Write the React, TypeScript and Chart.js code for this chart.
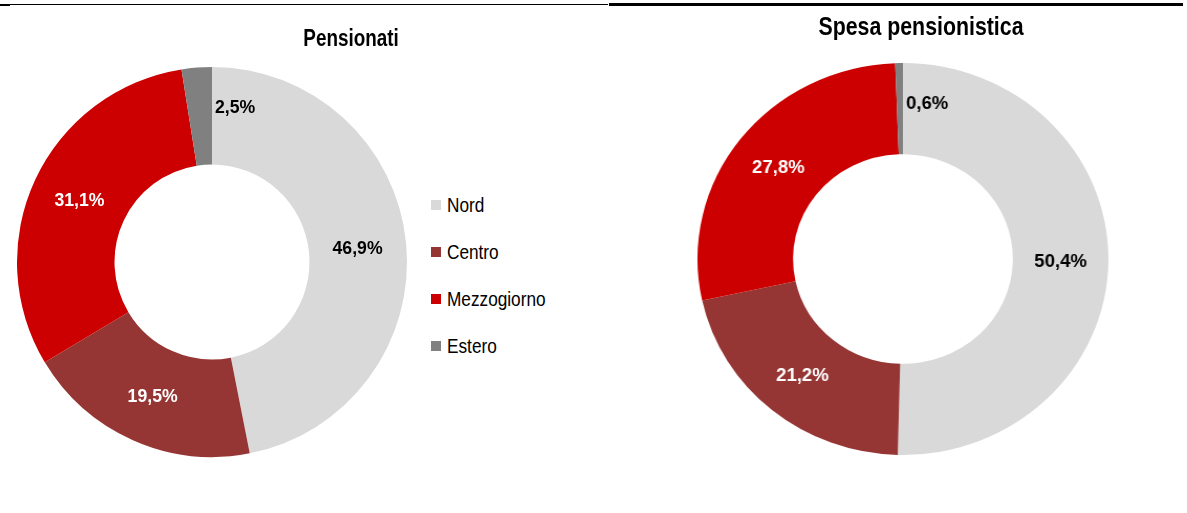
import React, { useEffect, useRef } from "react";
import { Chart, registerables } from "chart.js";

Chart.register(...registerables);

// ---- data ----
const categories = ["Nord", "Centro", "Mezzogiorno", "Estero"];
const pensionatiValues = [46.9, 19.5, 31.1, 2.5];
const spesaValues = [50.4, 21.2, 27.8, 0.6];
const sliceColors = ["#d9d9d9", "#963634", "#cc0000", "#808080"];
const labelColors = ["#000000", "#ffffff", "#ffffff", "#000000"];
const chartTitles = ["Pensionati", "Spesa pensionistica"];

const SANS = "'Liberation Sans', Arial, sans-serif";
const LABEL_FONT = "bold 19px 'Liberation Sans', Arial, sans-serif";
const LABEL_SQUEEZE = 0.93;
const NARROW_SCALE = 0.82;

const fmt = (v: number) => v.toFixed(1).replace(".", ",") + "%";

const sliceLabels = {
  id: "sliceLabels",
  afterDatasetsDraw(chart: any) {
    const ctx = chart.ctx;
    const meta = chart.getDatasetMeta(0);
    const data = chart.data.datasets[0].data as number[];
    meta.data.forEach((arc: any, i: number) => {
      const v = data[i];
      const p = arc.getProps(["x", "y", "outerRadius"], true);
      let x: number, y: number, align: CanvasTextAlign;
      if (v < 5) {
        align = "left";
        x = p.x + 3;
        y = p.y - p.outerRadius * 0.79;
      } else {
        const c = arc.getCenterPoint(true);
        align = "center";
        x = c.x;
        y = c.y + 1;
      }
      ctx.save();
      ctx.translate(x, y);
      ctx.scale(LABEL_SQUEEZE, 1);
      ctx.font = LABEL_FONT;
      ctx.textBaseline = "middle";
      ctx.textAlign = align;
      ctx.fillStyle = labelColors[i];
      ctx.fillText(fmt(v), 0, 0);
      ctx.restore();
    });
  },
};

function Doughnut(props: {
  values: number[];
  width: number;
  height: number;
  cssWidth: number;
  left: number;
  padding: { left: number; right: number; top: number; bottom: number };
  cutout: string;
}) {
  const ref = useRef<HTMLCanvasElement | null>(null);
  useEffect(() => {
    if (!ref.current) return;
    const chart = new Chart(ref.current, {
      type: "doughnut",
      data: {
        labels: categories,
        datasets: [
          {
            data: props.values,
            backgroundColor: sliceColors,
            borderWidth: 0,
          },
        ],
      },
      options: {
        responsive: false,
        maintainAspectRatio: false,
        animation: false,
        cutout: props.cutout,
        layout: { padding: props.padding },
        plugins: {
          legend: { display: false },
          tooltip: { enabled: false },
          title: { display: false },
        },
      },
      plugins: [sliceLabels],
    });
    return () => chart.destroy();
  }, []);
  return (
    <canvas
      ref={ref}
      width={props.width}
      height={props.height}
      style={{
        position: "absolute",
        left: props.left,
        top: 0,
        width: props.cssWidth + "px",
        height: props.height + "px",
      }}
    />
  );
}

function Title(props: { text: string; centerX: number; top: number; size: number }) {
  return (
    <div
      style={{
        position: "absolute",
        left: props.centerX - 200,
        top: props.top,
        width: 400,
        textAlign: "center",
        font: `bold ${props.size}px ${SANS}`,
        lineHeight: props.size + "px",
        color: "#000",
        whiteSpace: "nowrap",
        transform: `scaleX(${NARROW_SCALE})`,
        transformOrigin: "center",
      }}
    >
      {props.text}
    </div>
  );
}

export default function App() {
  const legendCenters = [205, 252, 299, 346];
  return (
    <div
      style={{
        position: "fixed",
        left: 0,
        top: 0,
        width: 1187,
        height: 513,
        background: "#ffffff",
        overflow: "hidden",
      }}
    >
      {/* top rules */}
      <div style={{ position: "absolute", left: 0, top: 4, width: 608, height: 1, background: "#000" }} />
      <div style={{ position: "absolute", left: 0, top: 4, width: 10, height: 2, background: "#000" }} />
      <div style={{ position: "absolute", left: 609, top: 3, width: 574, height: 3, background: "#000" }} />

      <Doughnut
        values={pensionatiValues}
        width={425}
        height={513}
        cssWidth={425}
        left={0}
        padding={{ left: 17, right: 18, top: 67, bottom: 56 }}
        cutout="50%"
      />
      <Doughnut
        values={spesaValues}
        width={560}
        height={513}
        cssWidth={587}
        left={600}
        padding={{ left: 93, right: 75, top: 63, bottom: 58 }}
        cutout="53.5%"
      />

      {/* titles */}
      <Title text={chartTitles[0]} centerX={351} top={27} size={23} />
      <Title text={chartTitles[1]} centerX={921} top={13} size={26} />

      {/* legend */}
      {categories.map((c, i) => (
        <div
          key={c}
          style={{
            position: "absolute",
            left: 431,
            top: legendCenters[i] - 12,
            height: 24,
            display: "flex",
            alignItems: "center",
            font: `21px ${SANS}`,
            color: "#000",
            whiteSpace: "nowrap",
          }}
        >
          <span
            style={{
              display: "inline-block",
              width: 10,
              height: 10,
              background: sliceColors[i],
              marginRight: 6,
            }}
          />
          <span
            style={{
              display: "inline-block",
              transform: `scaleX(${NARROW_SCALE})`,
              transformOrigin: "left center",
            }}
          >
            {c}
          </span>
        </div>
      ))}
    </div>
  );
}
